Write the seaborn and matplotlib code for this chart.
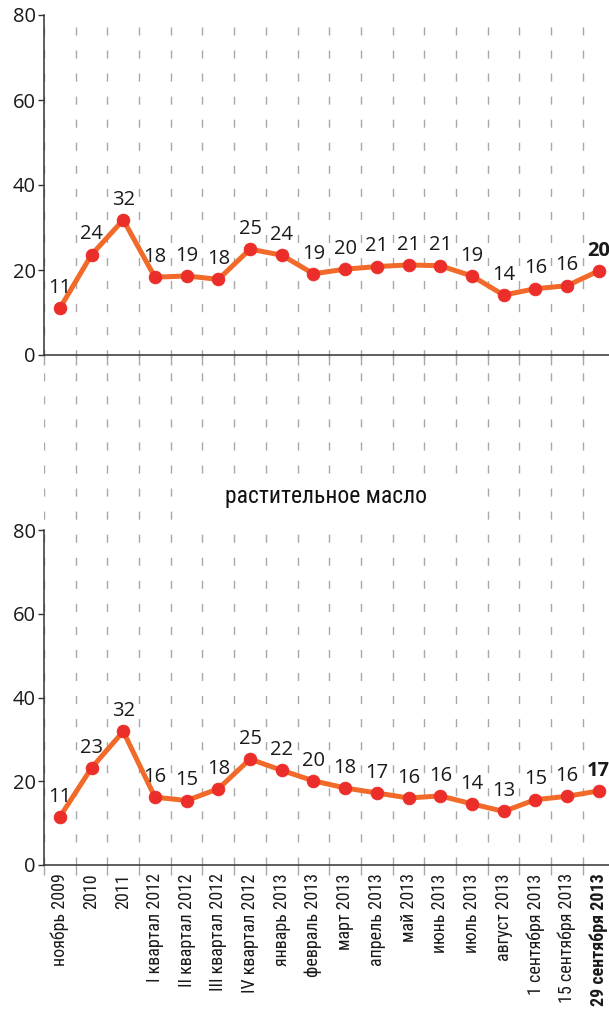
import numpy as np
import pandas as pd
import seaborn as sns
import matplotlib.pyplot as plt
from matplotlib.patches import Rectangle
from matplotlib.ticker import FixedLocator

periods = [
    'ноябрь 2009', '2010', '2011',
    'I квартал 2012', 'II квартал 2012', 'III квартал 2012', 'IV квартал 2012',
    'январь 2013', 'февраль 2013', 'март 2013', 'апрель 2013', 'май 2013',
    'июнь 2013', 'июль 2013', 'август 2013',
    '1 сентября 2013', '15 сентября 2013', '29 сентября 2013',
]

# upper panel (title cropped off in the source)
top_values = [11.0, 23.6, 31.8, 18.3, 18.6, 17.8, 24.9, 23.5, 19.1,
              20.2, 20.8, 21.2, 21.0, 18.6, 14.1, 15.6, 16.3, 19.8]
top_labels = ['11', '24', '32', '18', '19', '18', '25', '24', '19',
              '20', '21', '21', '21', '19', '14', '16', '16', '20']

# растительное масло
oil_values = [11.5, 23.2, 31.9, 16.2, 15.4, 18.2, 25.3, 22.6, 20.1,
              18.4, 17.2, 16.0, 16.5, 14.6, 12.8, 15.6, 16.4, 17.7]
oil_labels = ['11', '23', '32', '16', '15', '18', '25', '22', '20',
              '18', '17', '16', '16', '14', '13', '15', '16', '17']

oil_title = 'растительное масло'

sns.set_style('white')
plt.rcParams['font.family'] = ['Roboto Condensed', 'DejaVu Sans']
plt.rcParams['font.stretch'] = 'condensed'

LINE = '#f26a2a'
DOT = '#ec2e2a'
GRID = '#a8a8a8'
INK = '#1a1a1a'
NUM_FONT = ['Open Sans', 'DejaVu Sans']

W_PX, H_PX = 609, 1010
fig = plt.figure(figsize=(W_PX / 100, H_PX / 100), dpi=100)

left = 44 / W_PX
width = 1 - left
xmax = -0.5 + 565 / 31.7

# background axes with the dashed separators running through both panels
bg = fig.add_axes([left, 1 - 865 / H_PX, width, (865 - 20) / H_PX], zorder=0)
bg.set_xlim(-0.5, xmax)
bg.set_ylim(0, 1)
bg.axis('off')
for b in np.arange(len(periods)) - 0.5:
    bg.axvline(b, color=GRID, lw=1, linestyle=(0, (5.8, 10.8)))
bg.add_patch(Rectangle((180 / W_PX, 1 - 520 / H_PX), 300 / W_PX, 44 / H_PX,
                       transform=fig.transFigure, facecolor='white',
                       edgecolor='none', zorder=3))

ax_top = fig.add_axes([left, 1 - 355 / H_PX, width, 340 / H_PX], zorder=1)
ax_bot = fig.add_axes([left, 1 - 865 / H_PX, width, 335 / H_PX], zorder=1)


def draw_panel(ax, values, labels, show_xlabels):
    df = pd.DataFrame({'pos': np.arange(len(values)), 'value': values})
    sns.lineplot(data=df, x='pos', y='value', ax=ax, sort=False,
                 color=LINE, lw=3.6, marker='o', markersize=9,
                 markerfacecolor=DOT, markeredgecolor=DOT)
    ax.patch.set_visible(False)
    ax.set_xlim(-0.5, xmax)
    ax.set_ylim(0, 80)
    ax.set_yticks([0, 20, 40, 60, 80])
    ax.set_xlabel('')
    ax.set_ylabel('')
    for side in ['top', 'right']:
        ax.spines[side].set_visible(False)
    for side in ['left', 'bottom']:
        ax.spines[side].set_color('#333333')
        ax.spines[side].set_linewidth(1.1)
    ax.tick_params(axis='y', left=True, length=4, width=1, color='#333333',
                   labelsize=14.5, labelcolor=INK, pad=2)
    for t in ax.get_yticklabels():
        t.set_family(NUM_FONT)
        t.set_stretch('normal')
    ax.set_xticks(np.arange(len(values)))
    ax.xaxis.set_minor_locator(FixedLocator(np.arange(len(values)) - 0.5))
    ax.tick_params(axis='x', which='minor', bottom=True, length=7,
                   width=1, color=GRID)
    ax.tick_params(axis='x', which='major', bottom=True, length=0, pad=6)
    if show_xlabels:
        ax.set_xticklabels(periods, rotation=90, fontsize=13, color=INK,
                           va='top', ha='center')
        ax.get_xticklabels()[-1].set_fontweight('bold')
    else:
        ax.set_xticklabels([])
    n = len(values)
    for i, (v, lab) in enumerate(zip(values, labels)):
        ax.annotate(lab, (i, v), xytext=(0, 11), textcoords='offset points',
                    ha='center', va='baseline', fontsize=14.5, color=INK,
                    family=NUM_FONT, stretch='normal',
                    fontweight='bold' if i == n - 1 else 'normal')


draw_panel(ax_top, top_values, top_labels, False)
draw_panel(ax_bot, oil_values, oil_labels, True)

fig.text(326 / W_PX, 1 - 497 / H_PX, oil_title, ha='center', va='center',
         fontsize=17, color='#111111', zorder=5)

fig.savefig('out.png', dpi=100)
